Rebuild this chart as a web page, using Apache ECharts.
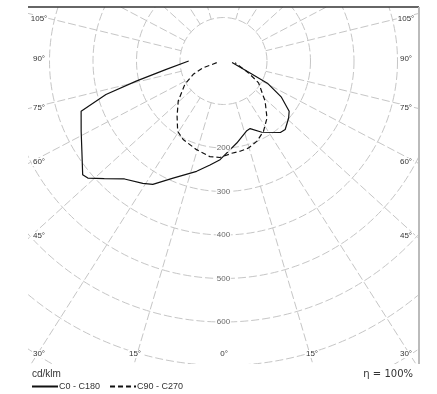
<!DOCTYPE html>
<html><head><meta charset="utf-8">
<script src="https://cdn.jsdelivr.net/npm/echarts@6/dist/echarts.min.js"></script>
<style>html,body{margin:0;padding:0;background:#fff}#c{width:437px;height:394px}</style>
</head><body><div id="c"></div>
<script>
// ---- data (angle in degrees from nadir, + = left half, - = right half; values in cd/klm)
const solidAngles = [90, 81.7, 77.0, 74.1, 70.6, 63.7, 57.5, 51.1, 49.2, 45.4, 40.0, 33.4, 29.8, 23.3, 13.7, 7.4, 2.0, -3.1, -9.2, -18.5, -21.5, -28.3, -38.5, -42.0, -48.8, -52.6, -58.0, -63.2, -65.6, -80];
const solidValues = [80, 133, 206, 281, 347, 365, 386, 416, 412, 385, 354, 337, 327, 293, 261, 241, 227, 208, 191, 169, 167, 186, 210, 212, 199, 190, 157, 113, 67, 20];
const dashedAngles = [76, 71.6, 66.2, 58.8, 48.5, 40.0, 33.1, 27.2, 16.9, 8.1, 2.1, -5.1, -10.4, -16.0, -22.5, -29.6, -37.3, -46.0, -58.1, -64.7, -81.6];
const dashedValues = [16, 49, 76, 104, 139, 166, 193, 203, 213, 222, 222, 213, 211, 208, 200, 186, 165, 133, 95, 63, 27];
const seriesNames = ['C0 - C180', 'C90 - C270'];
const radiusTickValues = [200, 300, 400, 500, 600];
const gridAngles = [15, 30, 45, 60, 75, 105, 120, 135, 150, 165];
const leftAngleLabels = ['105°', '90°', '75°', '60°', '45°', '30°'];
const rightAngleLabels = ['105°', '90°', '75°', '60°', '45°', '30°'];
const bottomAngleLabels = ['15°', '0°', '15°'];
const unitText = 'cd/klm';
const effText = 'η = 100%';

// ---- layout
const CX = 223.5, CY = 61, PX100 = 43.5, RMAX = 1000;
const STRETCH = 1.1;
const sideLabelYs = [19, 59, 108, 162, 236];
const bottomLabelX = [135, 224, 312];
const PL = 28, PR = 419, PT = 7, PB = 364;

const toAxisAngle = a => a < 0 ? 360 + a : a;
const screenAngle = a => Math.atan2(STRETCH * Math.sin(a * Math.PI / 180), Math.cos(a * Math.PI / 180)) * 180 / Math.PI;
const gridCustom = [];
gridAngles.forEach(a => { const s = screenAngle(a); gridCustom.push(s, 360 - s); });

const gridStyle = { color: '#c6c6c6', width: 1, type: [8, 3] };
const txt = { fontFamily: 'Liberation Sans, Arial, sans-serif', fontSize: 8, fill: '#333' };

const graphics = [
  { type: 'rect', shape: { x: 0, y: 0, width: 437, height: PT }, style: { fill: '#fff' }, z: 100, silent: true },
  { type: 'rect', shape: { x: 0, y: 0, width: PL, height: 394 }, style: { fill: '#fff' }, z: 100, silent: true },
  { type: 'rect', shape: { x: PR, y: 0, width: 437 - PR, height: 394 }, style: { fill: '#fff' }, z: 100, silent: true },
  { type: 'rect', shape: { x: 0, y: PB, width: 437, height: 394 - PB }, style: { fill: '#fff' }, z: 100, silent: true },
  { type: 'line', shape: { x1: PL, y1: PT, x2: PR, y2: PT }, style: { stroke: '#333', lineWidth: 1.5 }, z: 101, silent: true },
  { type: 'line', shape: { x1: PR, y1: PT, x2: PR, y2: PB }, style: { stroke: '#bbb', lineWidth: 2 }, z: 101, silent: true },
  { type: 'text', x: 32, y: 374, style: { text: unitText, fontFamily: 'Liberation Sans, Arial, sans-serif', fontSize: 10, fill: '#333', verticalAlign: 'middle' }, z: 102 },
  { type: 'text', x: 413, y: 374, style: { text: effText, fontFamily: 'DejaVu Sans, sans-serif', fontSize: 10, fill: '#333', align: 'right', verticalAlign: 'middle' }, z: 102 }
];
function addLabel(t, x, y) {
  graphics.push({ type: 'text', x: x, y: y, style: Object.assign({ text: t, align: 'center', verticalAlign: 'middle', backgroundColor: '#fff', padding: [0, 1] }, txt), z: 102 });
}
leftAngleLabels.forEach((t, i) => addLabel(t, 39, i < sideLabelYs.length ? sideLabelYs[i] : 354));
rightAngleLabels.forEach((t, i) => addLabel(t, 406, i < sideLabelYs.length ? sideLabelYs[i] : 354));
bottomAngleLabels.forEach((t, i) => addLabel(t, bottomLabelX[i], 354));

const chart = echarts.init(document.getElementById('c'), null, { renderer: 'canvas' });
chart.setOption({
  animation: false,
  backgroundColor: '#fff',
  polar: [
    { center: [CX, CY], radius: [PX100, PX100 * RMAX / 100] },
    { center: [CX, CY], radius: [0, PX100 * RMAX / 100] }
  ],
  angleAxis: [
    { polarIndex: 0, type: 'value', min: 0, max: 360, interval: 15, startAngle: 270, clockwise: true,
      axisLine: { show: false }, axisLabel: { show: false },
      axisTick: { show: false, customValues: gridCustom },
      splitLine: { show: true, lineStyle: gridStyle } },
    { polarIndex: 1, type: 'value', min: 0, max: 360, interval: 15, startAngle: 270, clockwise: true,
      axisLine: { show: false }, axisLabel: { show: false }, axisTick: { show: false }, splitLine: { show: false } }
  ],
  radiusAxis: [
    { polarIndex: 0, type: 'value', min: 100, max: RMAX, show: false, splitLine: { show: false } },
    { polarIndex: 1, type: 'value', min: 0, max: RMAX, interval: 100,
      axisLine: { show: false }, axisLabel: { show: false }, axisTick: { show: false },
      splitLine: { show: true, lineStyle: gridStyle } }
  ],
  legend: {
    z: 200,
    data: seriesNames, left: 31, top: 382, itemWidth: 26, itemHeight: 8, itemGap: 9, padding: 0,
    itemStyle: { opacity: 0 },
    textStyle: { fontSize: 9, color: '#333', fontFamily: 'Liberation Sans, Arial, sans-serif', padding: [0, 0, 0, -4] }
  },
  series: [
    { name: seriesNames[0], type: 'line', polarIndex: 1, coordinateSystem: 'polar', symbol: 'none', z: 5,
      lineStyle: { color: '#111', width: 1.2, type: 'solid' }, itemStyle: { color: '#111' },
      data: solidAngles.map((a, i) => [solidValues[i], toAxisAngle(a)]) },
    { name: seriesNames[1], type: 'line', polarIndex: 1, coordinateSystem: 'polar', symbol: 'none', z: 5,
      lineStyle: { color: '#111', width: 1.2, type: [5, 3] }, itemStyle: { color: '#111' },
      data: dashedAngles.map((a, i) => [dashedValues[i], toAxisAngle(a)]) },
    { name: 'ticks', type: 'scatter', polarIndex: 1, coordinateSystem: 'polar', symbolSize: 1, z: 6,
      itemStyle: { color: 'rgba(0,0,0,0)' }, silent: true,
      label: { show: true, position: 'inside', formatter: p => String(p.value[0]), fontSize: 8, color: '#444',
        fontFamily: 'Liberation Sans, Arial, sans-serif', backgroundColor: '#fff', padding: [0, 1] },
      data: radiusTickValues.map(v => [v, 0]) }
  ],
  graphic: { elements: graphics }
});
</script></body></html>
